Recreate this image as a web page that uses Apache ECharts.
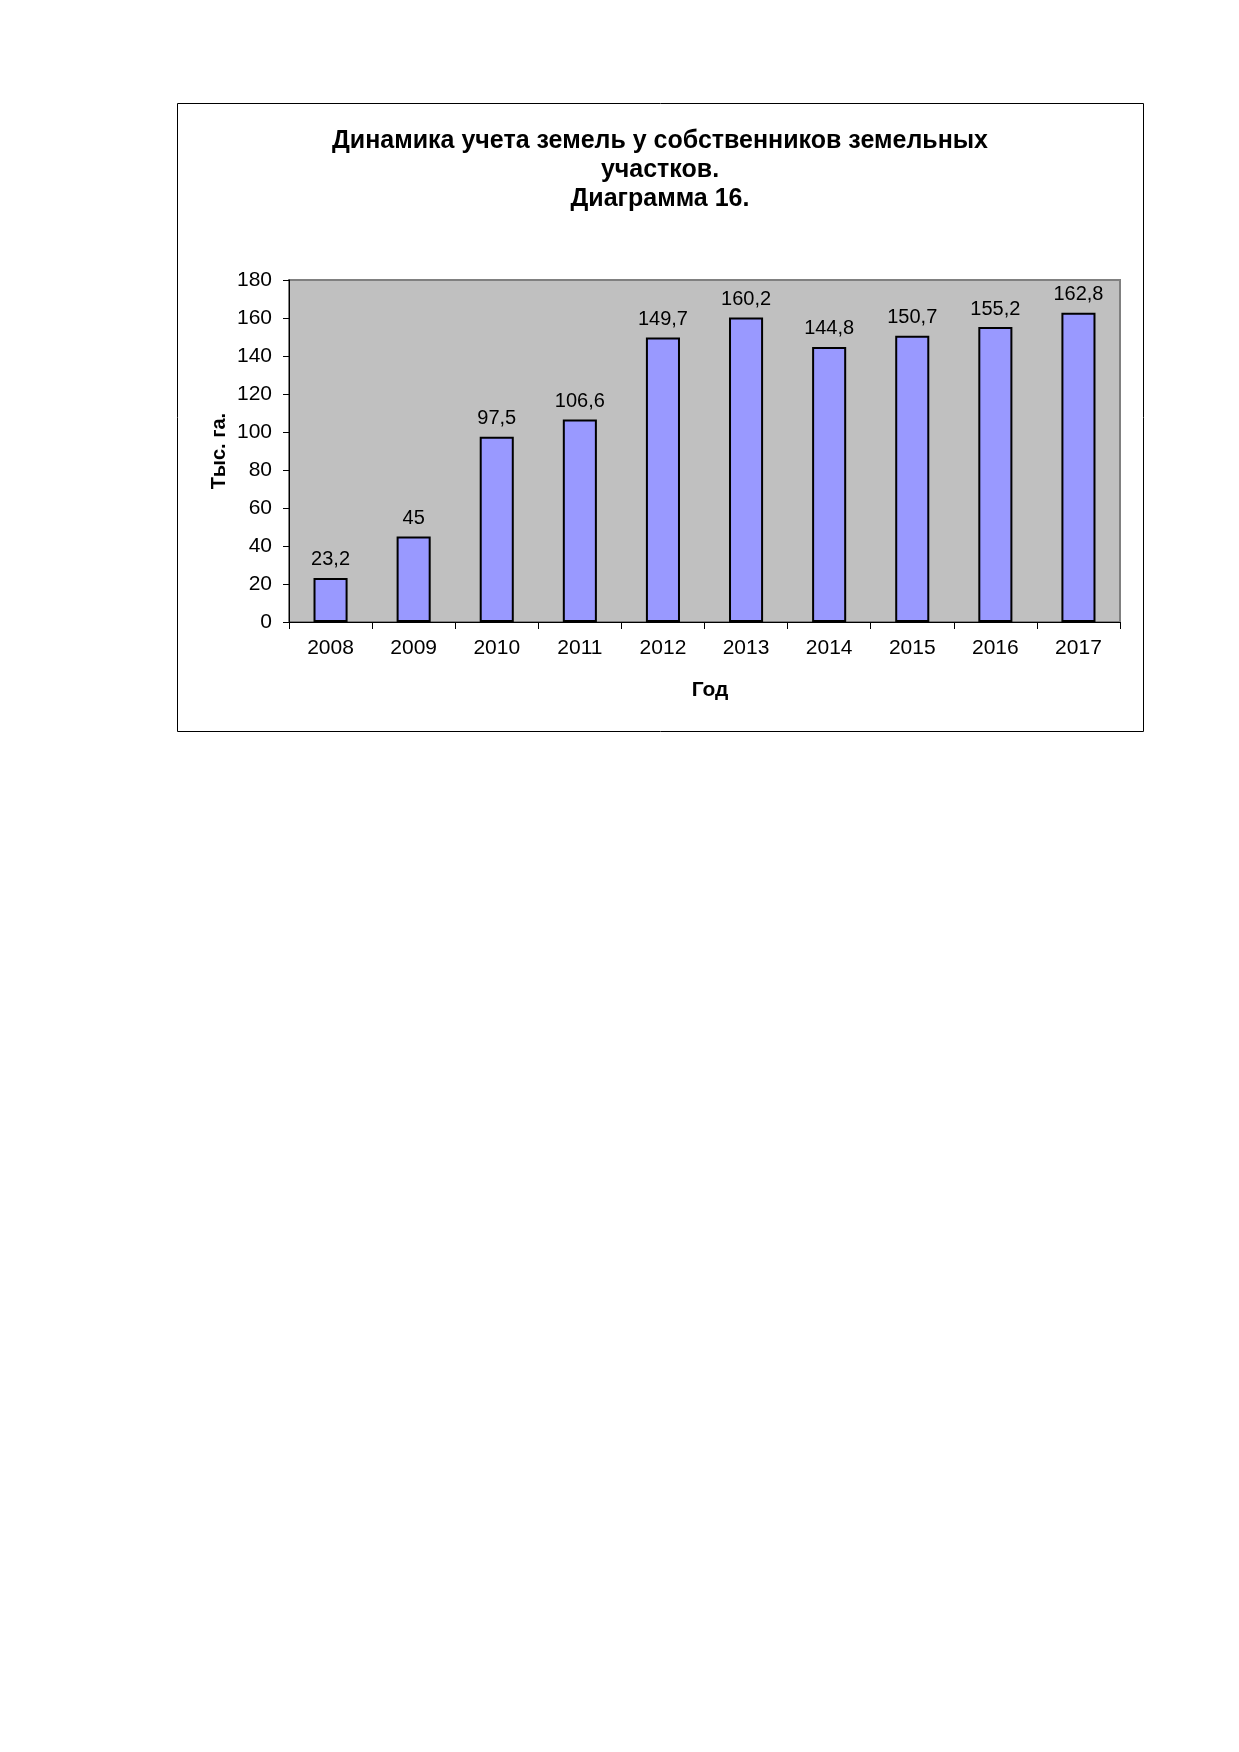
<!DOCTYPE html>
<html>
<head>
<meta charset="utf-8">
<script src="https://cdn.jsdelivr.net/npm/echarts@6/dist/echarts.min.js"></script>
<style>
html,body{margin:0;padding:0;background:#fff;}
#c{width:1239px;height:1752px;}
</style>
</head>
<body>
<div id="c"></div>
<script>
const categories = ['2008','2009','2010','2011','2012','2013','2014','2015','2016','2017'];
const values = [23.2, 45, 97.5, 106.6, 149.7, 160.2, 144.8, 150.7, 155.2, 162.8];
const titleText = 'Динамика учета земель у собственников земельных\nучастков.\nДиаграмма 16.';
const yName = 'Тыс. га.';
const xName = 'Год';

const FONT = "'Liberation Sans', Arial, sans-serif";
const chart = echarts.init(document.getElementById('c'), null, {renderer:'canvas'});
chart.setOption({
  backgroundColor: '#fff',
  animation: false,
  graphic: [{
    type: 'rect', z: -10,
    shape: {x: 177.5, y: 103.5, width: 966, height: 628},
    style: {fill: '#fff', stroke: '#000', lineWidth: 1}
  }],
  title: {
    text: titleText,
    left: 655, top: 122, textAlign: 'center', padding: 5,
    textStyle: {fontFamily: FONT, fontSize: 25, fontWeight: 'bold', color: '#000', lineHeight: 29}
  },
  grid: {
    left: 289, top: 280, right: 119, bottom: 1130,
    show: true, backgroundColor: '#c0c0c0', borderColor: '#808080', borderWidth: 2
  },
  xAxis: {
    type: 'category', data: categories,
    name: xName, nameLocation: 'middle', nameGap: 58,
    nameTextStyle: {fontFamily: FONT, fontSize: 21, fontWeight: 'bold', color: '#000', padding: [0,0,0,11]},
    axisLine: {lineStyle: {color: '#000', width: 1}},
    axisTick: {show: true, length: 7, lineStyle: {color: '#000'}},
    axisLabel: {fontFamily: FONT, fontSize: 21, color: '#000', margin: 16}
  },
  yAxis: {
    type: 'value', min: 0, max: 180, interval: 20,
    name: yName, nameLocation: 'middle', nameGap: 60, nameRotate: 90, nameMoveOverlap: false,
    nameTextStyle: {fontFamily: FONT, fontSize: 20, fontWeight: 'bold', color: '#000'},
    axisLine: {show: true, lineStyle: {color: '#000', width: 1}},
    axisTick: {show: true, length: 6, lineStyle: {color: '#000'}},
    splitLine: {show: false},
    axisLabel: {fontFamily: FONT, fontSize: 21, color: '#000', margin: 17}
  },
  series: [{
    type: 'bar', data: values, barWidth: '41%',
    itemStyle: {color: '#9999ff', borderColor: '#000', borderWidth: 2},
    label: {
      show: true, position: 'top', distance: 8,
      fontFamily: FONT, fontSize: 20, color: '#000',
      formatter: p => String(p.value).replace('.', ',')
    }
  }]
});
</script>
</body>
</html>
